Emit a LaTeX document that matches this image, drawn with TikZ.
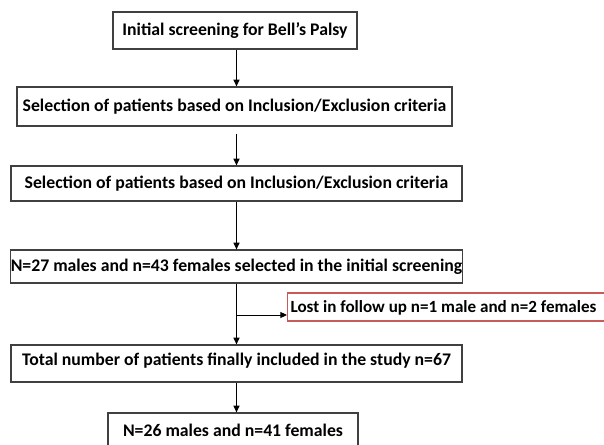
\documentclass[tikz,border=0pt]{standalone}
\usepackage{fontspec}
\setmainfont{Carlito}
\usetikzlibrary{arrows.meta}
\definecolor{lostred}{RGB}{200,90,90}

\begin{document}
\begin{tikzpicture}[x=0.75pt,y=-0.75pt,
      box/.style={draw=black!75,line width=0.9pt,inner sep=0pt,
        font=\bfseries\fontsize{13.3}{15}\selectfont},
      arr/.style={-{Triangle[length=5pt,width=4.5pt]},line width=0.7pt}]
      \useasboundingbox (0,0) rectangle (604,445);

      \node[box,minimum width=183pt,minimum height=27.75pt] (init) at (235,30.5) {Initial screening for Bell’s Palsy};
      \node[box,minimum width=326.25pt,minimum height=29.25pt] (sel1) at (234.5,106.5) {Selection of patients based on Inclusion/Exclusion criteria};
      \node[box,minimum width=338.25pt,minimum height=26.25pt] (sel2) at (236.5,183.5) {Selection of patients based on Inclusion/Exclusion criteria};
      \node[box,minimum width=338.25pt,minimum height=24.75pt] (screen) at (236.5,266.5) {N=27 males and n=43 females selected in the initial screening};
      \node[box,draw=lostred,anchor=west,minimum height=21pt,
        text width=236pt,align=flush left,inner xsep=2.25pt,text height=11pt,
        font=\bfseries\fontsize{12.8}{15}\selectfont] (lost) at (287,307) {Lost in follow up n=1 male and n=2 females};
      \node[box,minimum width=338.25pt,minimum height=27.75pt,text depth=6pt] (total) at (236.5,363.5) {Total number of patients finally included in the study n=67};
      \node[box,minimum width=187.5pt,minimum height=25.5pt] (final) at (233,430) {N=26 males and n=41 females};

      \coordinate (split) at (236.5,315);

      \draw[arr] (init.south -| sel2) -- (sel1.north -| sel2);
      \draw[arr,shorten <=5.25pt] (sel1.south -| sel2) -- (sel2.north);
      \draw[arr] (sel2.south) -- (screen.north);
      \draw[arr] (screen.south) -- (total.north);
      \draw[arr] (split) -- (split -| lost.west);
      \draw[arr] (total.south) -- (total.south |- final.north);
     \end{tikzpicture}
\end{document}
